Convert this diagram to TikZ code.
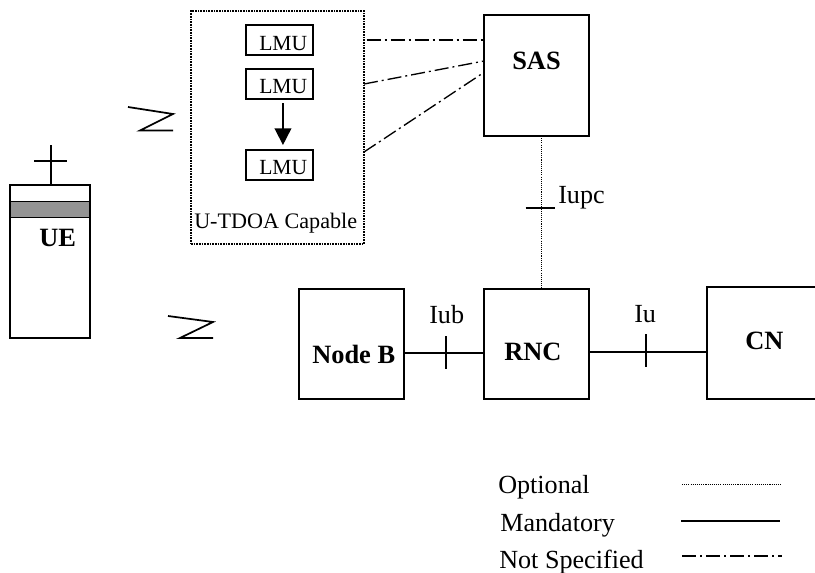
\documentclass[tikz,border=0pt]{standalone}
\usepackage{fontspec}
\setmainfont{Liberation Serif}
\usetikzlibrary{arrows.meta}
\tikzset{
 x=0.75pt,y=-0.75pt,
 blk/.style={draw,line width=1.3pt,inner sep=0pt,outer sep=0pt,anchor=north west},
 lbl/.style={inner sep=0pt,anchor=base west},
 bold/.style={lbl,font=\fontsize{19.8}{22}\selectfont\bfseries},
 txt/.style={lbl,font=\fontsize{19.6}{22}\selectfont},
 lmu/.style={lbl,font=\fontsize{16.2}{18}\selectfont},
 solidln/.style={line width=1.3pt},
 thinln/.style={line width=1pt},
 optln/.style={line width=0.7pt,dash pattern=on 0.8pt off 0.8pt},
 nsln/.style={line width=1pt,dash pattern=on 10.5pt off 3pt on 1.5pt off 3pt},
}
\newcommand{\bx}[5]{\node[blk,minimum width=#4*0.75pt,minimum height=#5*0.75pt] (#1) at (#2,#3) {};}
\begin{document}
\begin{tikzpicture}
\useasboundingbox (0,0) rectangle (815,572);
\clip (0,0) rectangle (815,572);
% UE
\bx{ue}{10}{185}{80}{153}
\node[blk,fill=black!42,minimum width=60pt,minimum height=12pt] (band) at (10,201.5) {};
\coordinate (anttop) at (51,145);
\coordinate (crossL) at (34,161);
\coordinate (crossR) at (67,161);
\draw[solidln] (anttop) -- (anttop |- ue.north);
\draw[solidln] (crossL) -- (crossR);
\node[bold] (uet) at (39,246) {UE};
% zigzags
\coordinate (z1a) at (128,107);
\coordinate (z1b) at (173,114);
\coordinate (z1c) at (140,130.5);
\coordinate (z1d) at (173,130.5);
\draw[solidln] (z1a) -- (z1b) -- (z1c) -- (z1d);
\coordinate (z2a) at (168,316);
\coordinate (z2b) at (213,322);
\coordinate (z2c) at (180,338);
\coordinate (z2d) at (213,338);
\draw[solidln] (z2a) -- (z2b) -- (z2c) -- (z2d);
% capable box
\node[anchor=north west,inner sep=0pt,outer sep=0pt,minimum width=173*0.75pt,minimum height=233*0.75pt,draw,line width=1.3pt,dash pattern=on 1.2pt off 0.8pt] (cap) at (191,11) {};
\bx{l1}{246}{25}{67}{30}
\bx{l2}{246}{69}{67}{30}
\bx{l3}{246}{150}{67}{30}
\node[lmu] (t1) at (259,50) {LMU};
\node[lmu] (t2) at (259,93) {LMU};
\node[lmu] (t3) at (259,174) {LMU};
\node[lmu,font=\fontsize{16.6}{18}\selectfont] (tc) at (194,228) {U-TDOA Capable};
\draw[solidln,-{Triangle[length=12.5pt,width=12.5pt]},shorten <=3pt,shorten >=3.75pt] ([xshift=2.6pt]l2.south) -- ([xshift=2.6pt]l3.north);
% SAS etc
\bx{sas}{484}{15}{105}{121}
\bx{rnc}{484}{289}{105}{110}
\bx{nb}{299}{289}{105}{110}
\bx{cn}{707}{287}{112}{112}
\node[bold] (ts) at (512,69) {SAS};
\node[bold] (tr) at (504,360) {RNC};
\node[bold] (tn) at (312,363) {Node B};
\node[bold] (tcn) at (745,349) {CN};
% not specified
\draw[nsln] ([xshift=2pt,yshift=-21.75pt]cap.north east) -- ([yshift=-18.75pt]sas.north west);
\draw[nsln] ([yshift=-54.75pt]cap.north east) -- ([yshift=-34.5pt]sas.north west);
\draw[nsln] ([yshift=-105.75pt]cap.north east) -- ([yshift=-43pt]sas.north west);
% iupc
\draw[optln] ([xshift=3.6pt]sas.south) -- ([xshift=3.6pt]rnc.north);
\coordinate (iu1) at (525.5,208);
\coordinate (iu2) at (555,208);
\draw[thinln] (iu1) -- (iu2);
\node[txt] (tiupc) at (558,203) {Iupc};
% iub
\draw[solidln] ([yshift=-6.75pt]nb.east) -- ([yshift=-6.75pt]rnc.west);
\coordinate (ib1) at (446,336);
\coordinate (ib2) at (446,369);
\draw[thinln] (ib1) -- (ib2);
\node[txt] (tiub) at (429,323) {Iub};
% iu
\draw[solidln] ([yshift=-6pt]rnc.east) -- (rnc.east |- 0,352) -- (cn.west |- 0,352);
\coordinate (iv1) at (646,334);
\coordinate (iv2) at (646,367);
\draw[thinln] (iv1) -- (iv2);
\node[txt] (tiu) at (634,322) {Iu};
% legend
\node[txt] (lo) at (498,493) {Optional};
\node[txt] (lm) at (500,531) {Mandatory};
\node[txt] (ln) at (499,568) {Not Specified};
\coordinate (o1) at (682,484);
\coordinate (o2) at (781,484);
\draw[optln] (o1) -- (o2);
\coordinate (m1) at (681,521);
\coordinate (m2) at (780,521);
\draw[solidln] (m1) -- (m2);
\coordinate (n1) at (682,556);
\coordinate (n2) at (782,556);
\draw[nsln] (n1) -- (n2);
\end{tikzpicture}
\end{document}
